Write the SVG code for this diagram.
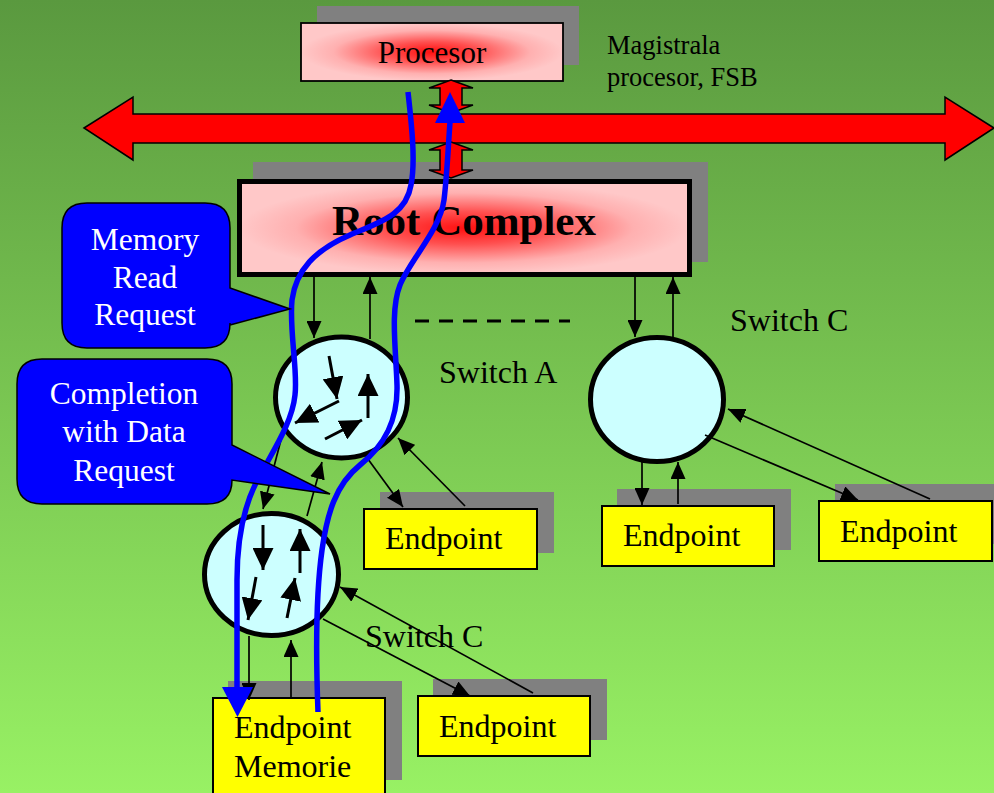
<svg xmlns="http://www.w3.org/2000/svg" width="994" height="793" viewBox="0 0 994 793">
  <defs>
    <linearGradient id="bg" x1="0" y1="0" x2="0" y2="1">
      <stop offset="0" stop-color="#5a993f"/>
      <stop offset="1" stop-color="#98f164"/>
    </linearGradient>
    <radialGradient id="glow" cx="0.5" cy="0.5" r="0.5">
      <stop offset="0" stop-color="#ff1010"/>
      <stop offset="0.35" stop-color="#ff5050"/>
      <stop offset="0.75" stop-color="#ffb0b0"/>
      <stop offset="1" stop-color="#ffc8c8"/>
    </radialGradient>
    <marker id="ah" viewBox="0 0 10 10" refX="10" refY="5" markerWidth="17" markerHeight="15" markerUnits="userSpaceOnUse" orient="auto" preserveAspectRatio="none">
      <path d="M0,0 L10,5 L0,10 z" fill="#000"/>
    </marker>
    <marker id="ahBig" viewBox="0 0 10 10" refX="10" refY="5" markerWidth="22" markerHeight="21" markerUnits="userSpaceOnUse" orient="auto" preserveAspectRatio="none">
      <path d="M0,0 L10,5 L0,10 z" fill="#000"/>
    </marker>
    <style>
      .shadow { fill: #808080; }
      .ep { fill: #ffff00; stroke: #000; stroke-width: 2; }
      .sw { fill: #ccffff; stroke: #000; stroke-width: 5; }
      .lbl { font-family: "Liberation Serif", "Times New Roman", serif; fill: #000; }
      .call { fill: #0000ff; stroke: #000; stroke-width: 1.5; }
      .callTxt { font-family: "Liberation Serif", "Times New Roman", serif; fill: #fff; font-size: 31.5px; text-anchor: middle; }
      .conn line { stroke: #000; stroke-width: 1.7; marker-end: url(#ah); }
      .conn line.dash { stroke-width: 3; stroke-dasharray: 14 10; marker-end: none; }
      .inner line { stroke: #000; stroke-width: 3; marker-end: url(#ahBig); }
      .flow { fill: none; stroke: #0000ff; stroke-width: 5.5; }
      .ept { font-size: 32px; }
      .swt { font-size: 32px; }
    </style>
  </defs>

  <!-- background -->
  <rect x="0" y="0" width="994" height="793" fill="url(#bg)"/>

  <!-- front-side bus -->
  <g id="fsb">
    <polygon points="84,128 133,97 133,114 945,114 945,97 994,128 945,160 945,143 133,143 133,160" fill="#ff0000" stroke="#000" stroke-width="1.5"/>
    <text class="lbl" x="607" y="54" font-size="26.5">Magistrala</text>
    <text class="lbl" x="607" y="86" font-size="26.5">procesor, FSB</text>
  </g>

  <!-- processor -->
  <g id="procesor">
    <rect class="shadow" x="317" y="6" width="262" height="59"/>
    <rect x="301" y="23" width="262" height="58" fill="url(#glow)" stroke="#000" stroke-width="1.8"/>
    <text class="lbl" x="432" y="63" font-size="31" text-anchor="middle">Procesor</text>
  </g>

  <!-- root complex -->
  <g id="rootComplex">
    <rect class="shadow" x="253" y="162" width="455" height="100"/>
    <rect x="239.5" y="181.5" width="450" height="93" fill="url(#glow)" stroke="#000" stroke-width="5"/>
    <text class="lbl" x="464" y="235" font-size="43" font-weight="bold" text-anchor="middle">Root Complex</text>
  </g>

  <!-- links processor/bus/root complex -->
  <g id="busLinks" fill="#ff0000" stroke="#000" stroke-width="1.5">
    <polygon points="451,80 473,88 462,88 462,105 473,105 451,113 429,105 440,105 440,88 429,88"/>
    <polygon points="451,142 473,150 462,150 462,170 473,170 451,178 429,170 440,170 440,150 429,150"/>
  </g>

  <!-- switches -->
  <g id="switchA">
    <ellipse class="sw" cx="341.5" cy="397.5" rx="66" ry="60.5"/>
    <g class="inner">
      <line x1="329" y1="356" x2="337" y2="399"/>
      <line x1="339" y1="401" x2="295" y2="423"/>
      <line x1="368" y1="418" x2="368" y2="374"/>
      <line x1="325" y1="439" x2="362" y2="420"/>
    </g>
    <text class="lbl swt" x="439" y="383">Switch A</text>
  </g>

  <g id="switchCRight">
    <ellipse class="sw" cx="657" cy="399.5" rx="66.5" ry="62"/>
    <text class="lbl swt" x="730" y="331">Switch C</text>
  </g>

  <g id="switchCLower">
    <ellipse class="sw" cx="271.5" cy="574.5" rx="67" ry="61"/>
    <g class="inner">
      <line x1="263" y1="525" x2="263" y2="570"/>
      <line x1="300" y1="573" x2="300" y2="529"/>
      <line x1="256" y1="577" x2="248" y2="620"/>
      <line x1="287" y1="618" x2="295" y2="578"/>
    </g>
    <text class="lbl swt" x="365" y="647">Switch C</text>
  </g>

  <!-- endpoints -->
  <g id="endpointA">
    <rect class="shadow" x="380" y="492" width="174" height="61"/>
    <rect class="ep" x="364" y="509" width="173" height="60"/>
    <text class="lbl ept" x="385" y="549">Endpoint</text>
  </g>
  <g id="endpointC1">
    <rect class="shadow" x="617" y="489" width="174" height="61"/>
    <rect class="ep" x="602" y="506" width="172" height="60"/>
    <text class="lbl ept" x="623" y="546">Endpoint</text>
  </g>
  <g id="endpointC2">
    <rect class="shadow" x="835" y="484" width="165" height="60"/>
    <rect class="ep" x="819" y="501" width="173" height="60"/>
    <text class="lbl ept" x="840" y="542">Endpoint</text>
  </g>
  <g id="endpointMemorie">
    <rect class="shadow" x="228" y="681" width="174" height="99"/>
    <rect class="ep" x="213" y="698" width="172" height="105"/>
    <text class="lbl ept" x="234" y="738">Endpoint</text>
    <text class="lbl ept" x="234" y="777">Memorie</text>
  </g>
  <g id="endpointLower">
    <rect class="shadow" x="433" y="679" width="174" height="61"/>
    <rect class="ep" x="418" y="696" width="172" height="60"/>
    <text class="lbl ept" x="439" y="737">Endpoint</text>
  </g>

  <!-- connectors -->
  <g id="connectors" class="conn">
    <line x1="314" y1="277" x2="314" y2="338"/>
    <line x1="370" y1="339" x2="370" y2="277"/>
    <line x1="635" y1="277" x2="635" y2="337"/>
    <line x1="673" y1="337" x2="673" y2="277"/>
    <line class="dash" x1="415" y1="321" x2="570" y2="321"/>
    <line x1="642" y1="459" x2="642" y2="505"/>
    <line x1="678" y1="504" x2="678" y2="462"/>
    <line x1="705" y1="435" x2="858" y2="500"/>
    <line x1="930" y1="499" x2="728" y2="409"/>
    <line x1="365" y1="455" x2="403" y2="507"/>
    <line x1="465" y1="506" x2="398" y2="438"/>
    <line x1="283" y1="432" x2="263" y2="509"/>
    <line x1="307" y1="516" x2="322" y2="462"/>
    <line x1="249" y1="636" x2="249" y2="700"/>
    <line x1="291" y1="697" x2="291" y2="640"/>
    <line x1="323" y1="619" x2="470" y2="696"/>
    <line x1="533" y1="693" x2="340" y2="587"/>
  </g>

  <!-- transaction paths -->
  <g id="flows">
    <path class="flow" d="M408,92 C411,120 416,160 411,185 C406,215 380,222 350,235 C315,250 296,270 292,300 C289,330 298,370 295,395 C292,425 270,455 255,485 C243,510 237,540 237,580 L237,690"/>
    <polygon points="222,687 253,687 237.5,717" fill="#0000ff"/>
    <path class="flow" d="M318,712 C316,660 315,600 322,550 C327,515 335,485 360,465 C385,445 398,420 397,385 C396,350 390,310 400,285 C410,260 440,230 444,200 C447,175 448,150 450,122"/>
    <polygon points="435,123 465,123 450,92" fill="#0000ff"/>
  </g>

  <!-- callouts -->
  <g id="calloutRead">
    <path class="call" d="M87,203 H205 Q230,203 230,228 V288 L290,309 L230,325 V323 Q230,348 205,348 H87 Q62,348 62,323 V228 Q62,203 87,203 Z"/>
    <text class="callTxt" x="145" y="250">Memory</text>
    <text class="callTxt" x="145" y="288">Read</text>
    <text class="callTxt" x="145" y="325">Request</text>
  </g>
  <g id="calloutCompletion">
    <path class="call" d="M42,359 H207 Q232,359 232,384 V445 L330,494 L232,480 Q232,504 207,504 H42 Q17,504 17,479 V384 Q17,359 42,359 Z"/>
    <text class="callTxt" x="124" y="404">Completion</text>
    <text class="callTxt" x="124" y="442">with Data</text>
    <text class="callTxt" x="124" y="481">Request</text>
  </g>
</svg>
